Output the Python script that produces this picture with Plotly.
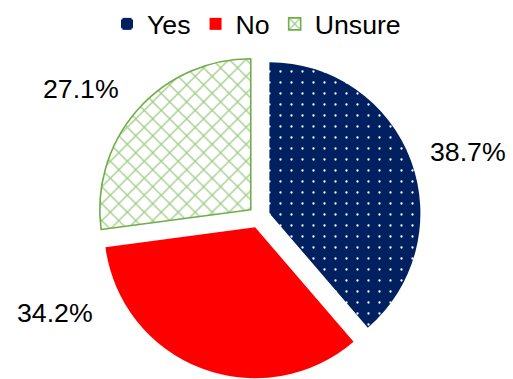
import plotly.graph_objects as go

# Survey response shares (percent)
categories = ["Yes", "No", "Unsure"]
shares = [38.7, 34.2, 27.1]

fill_colors = ["#002060", "#FF0000", "#FFFFFF"]
pattern_shapes = [".", "", "x"]
pattern_fg = ["#FFFFFF", "#FF0000", "#9FCC84"]
pattern_size = [11, 8, 12]
pattern_solidity = [0.035, 0.3, 0.2]
edge_colors = ["#002060", "#FF0000", "#70AD47"]
edge_widths = [0, 0, 1.6]

# Where each percentage label sits (paper coordinates)
label_pos = [(0.912, 0.598), (0.107, 0.174), (0.158, 0.764)]

W, H = 513, 379
FONT = "Liberation Sans, Arial, sans-serif"

fig = go.Figure(
    go.Pie(
        labels=categories,
        values=shares,
        sort=False,
        direction="clockwise",
        rotation=0,
        pull=[0.073] * len(shares),
        textinfo="none",
        hoverinfo="label+percent",
        domain=dict(x=[0.189, 0.821], y=[0.0, 0.855]),
        marker=dict(
            colors=fill_colors,
            line=dict(color=edge_colors, width=edge_widths),
            pattern=dict(
                shape=pattern_shapes,
                fgcolor=pattern_fg,
                bgcolor=fill_colors,
                size=pattern_size,
                solidity=pattern_solidity,
                fillmode="replace",
            ),
        ),
    )
)

annotations = [
    dict(
        x=x, y=y, xref="paper", yref="paper",
        text=f"{v:.1f}%", showarrow=False,
        xanchor="center", yanchor="middle",
        font=dict(family=FONT, size=26.7, color="#000000"),
    )
    for v, (x, y) in zip(shares, label_pos)
]

fig.update_layout(
    width=W,
    height=H,
    margin=dict(l=0, r=0, t=0, b=0),
    paper_bgcolor="#FFFFFF",
    plot_bgcolor="#FFFFFF",
    font=dict(family=FONT, size=26.7, color="#000000"),
    showlegend=True,
    legend=dict(
        orientation="h",
        x=0.5, xanchor="center",
        y=1.0, yanchor="top",
        font=dict(family=FONT, size=26.7, color="#000000"),
        itemwidth=30,
        tracegroupgap=0,
        traceorder="normal",
    ),
    annotations=annotations,
)

fig.write_html("out.html")
